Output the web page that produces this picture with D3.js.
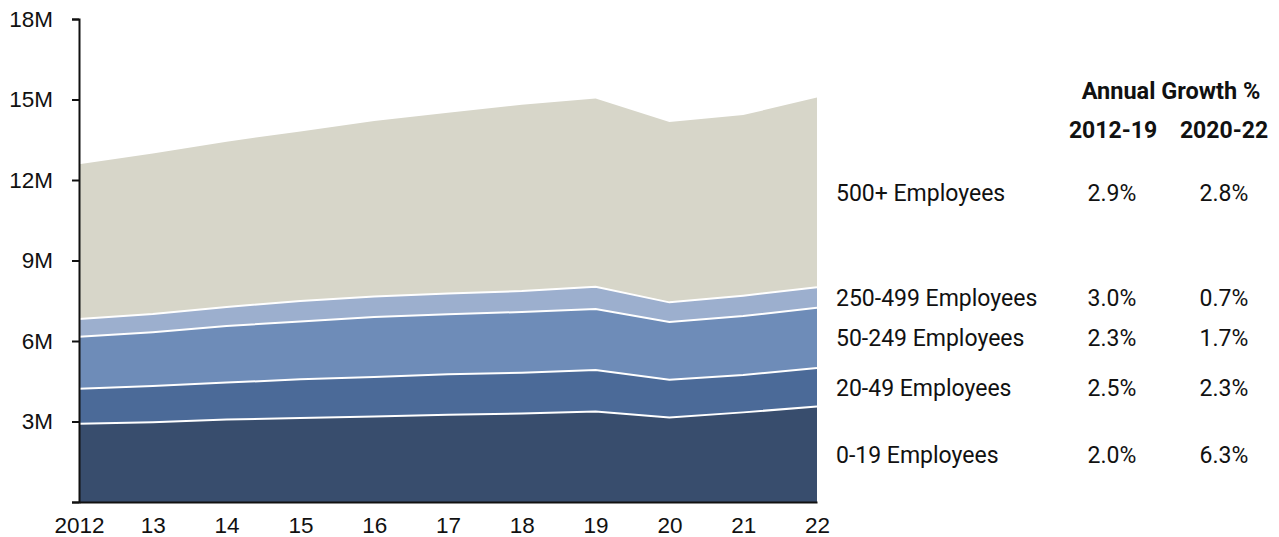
<!DOCTYPE html>
<html>
<head>
<meta charset="utf-8">
<script src="https://cdn.jsdelivr.net/npm/d3@7"></script>
<style>
  html, body { margin: 0; padding: 0; background: #fff; }
  svg { display: block; font-family: Roboto, "Noto Sans", sans-serif; }
  .axis text { font-size: 22.5px; fill: #111; }
  .axis path, .axis line { stroke: #111; stroke-width: 2; }
</style>
</head>
<body>
<svg id="chart" width="1279" height="537"></svg>
<script>
// Employment by establishment size, millions of workers
const years = [2012, 2013, 2014, 2015, 2016, 2017, 2018, 2019, 2020, 2021, 2022];
const sizeClasses = ["0-19 Employees", "20-49 Employees", "50-249 Employees", "250-499 Employees", "500+ Employees"];
const emp0to19    = [2.92, 2.97, 3.07, 3.13, 3.19, 3.25, 3.30, 3.37, 3.15, 3.34, 3.56];
const emp20to49   = [1.30, 1.35, 1.38, 1.44, 1.47, 1.51, 1.52, 1.55, 1.41, 1.39, 1.43];
const emp50to249  = [1.94, 2.01, 2.11, 2.16, 2.23, 2.24, 2.26, 2.27, 2.15, 2.20, 2.25];
const emp250to499 = [0.66, 0.68, 0.71, 0.76, 0.77, 0.77, 0.78, 0.83, 0.73, 0.76, 0.76];
const emp500plus  = [5.77, 5.98, 6.16, 6.32, 6.54, 6.74, 6.94, 7.02, 6.72, 6.73, 7.07];
const growth2012to19 = ["2.0%", "2.5%", "2.3%", "3.0%", "2.9%"];
const growth2020to22 = ["6.3%", "2.3%", "1.7%", "0.7%", "2.8%"];
const yTicks = [0, 3, 6, 9, 12, 15, 18];
const colors = ["#384d6d", "#4b6a98", "#6e8cb8", "#9cafce", "#d7d6c9"];

const seriesValues = [emp0to19, emp20to49, emp50to249, emp250to499, emp500plus];
const rows = years.map((yr, i) => {
  const r = { year: yr };
  sizeClasses.forEach((k, j) => { r[k] = seriesValues[j][i]; });
  return r;
});

const svg = d3.select("#chart");
const x = d3.scaleLinear().domain([2012, 2022]).range([79, 817]);
const y = d3.scaleLinear().domain([0, 18]).range([502, 19]);

const stacked = d3.stack().keys(sizeClasses)(rows);

const area = d3.area()
  .x(d => x(d.data.year))
  .y0(d => y(d[0]))
  .y1(d => y(d[1]));

svg.append("g").selectAll("path")
  .data(stacked)
  .join("path")
  .attr("d", area)
  .attr("fill", (d, i) => colors[i]);

// white separators between layers
const edge = d3.line()
  .x(d => x(d.data.year))
  .y(d => y(d[1]));
svg.append("g").selectAll("path")
  .data(stacked.slice(0, stacked.length - 1))
  .join("path")
  .attr("d", edge)
  .attr("fill", "none")
  .attr("stroke", "#fff")
  .attr("stroke-width", 2);

// axes
svg.append("g")
  .attr("class", "axis")
  .attr("transform", `translate(${x(2012)},0)`)
  .call(d3.axisLeft(y).tickValues(yTicks)
    .tickFormat(d => d === 0 ? "" : d + "M")
    .tickSize(7).tickSizeOuter(7).tickPadding(19));

svg.append("g")
  .attr("class", "axis")
  .attr("transform", `translate(0,${y(0)})`)
  .call(d3.axisBottom(x).tickValues(years)
    .tickFormat(d => d === 2012 ? "2012" : String(d % 100))
    .tickSize(0).tickSizeOuter(0).tickPadding(15));

// growth table on the right
const table = svg.append("g").attr("fill", "#111").style("font-size", "23px");
table.append("text")
  .attr("x", 1171).attr("y", 99)
  .attr("text-anchor", "middle").attr("font-weight", "bold")
  .style("font-size", "23.5px")
  .text("Annual Growth %");
table.append("text")
  .attr("x", 1113).attr("y", 138)
  .attr("text-anchor", "middle").attr("font-weight", "bold")
  .text("2012-19");
table.append("text")
  .attr("x", 1224).attr("y", 138)
  .attr("text-anchor", "middle").attr("font-weight", "bold")
  .text("2020-22");

const last = years.length - 1;
stacked.forEach((layer, i) => {
  const mid = y((layer[last][0] + layer[last][1]) / 2);
  table.append("text")
    .attr("x", 836).attr("y", mid).attr("dy", "0.36em")
    .text(sizeClasses[i]);
  table.append("text")
    .attr("x", 1112).attr("y", mid).attr("dy", "0.36em")
    .attr("text-anchor", "middle")
    .text(growth2012to19[i]);
  table.append("text")
    .attr("x", 1224).attr("y", mid).attr("dy", "0.36em")
    .attr("text-anchor", "middle")
    .text(growth2020to22[i]);
});
</script>
</body>
</html>
